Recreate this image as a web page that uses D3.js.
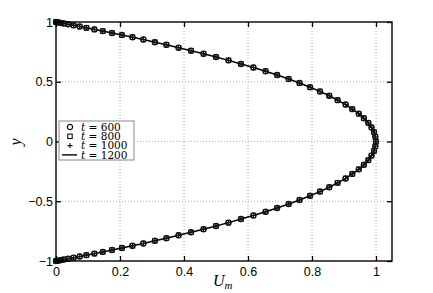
<!DOCTYPE html>
<html><head><meta charset="utf-8">
<script src="https://cdn.jsdelivr.net/npm/d3@7"></script>
<style>body{margin:0;background:#fff}svg{display:block}</style>
</head><body>
<svg id="c" width="433" height="293"></svg>
<script>
const yNodes = [1.000,0.999,0.997,0.993,0.988,0.981,0.972,0.962,0.951,0.938,0.924,0.908,0.891,0.873,0.853,0.831,0.809,0.785,0.760,0.734,0.707,0.679,0.649,0.619,0.588,0.556,0.523,0.489,0.454,0.419,0.383,0.346,0.309,0.271,0.233,0.195,0.156,0.118,0.078,0.039,0.000,
-0.039,-0.078,-0.118,-0.156,-0.195,-0.233,-0.271,-0.309,-0.346,-0.383,-0.419,-0.454,-0.489,-0.523,-0.556,-0.588,-0.619,-0.649,-0.679,-0.707,-0.734,-0.760,-0.785,-0.809,-0.831,-0.853,-0.873,-0.891,-0.908,-0.924,-0.938,-0.951,-0.962,-0.972,-0.981,-0.988,-0.993,-0.997,-0.999,-1.000];
const uProfile = [0.000,0.002,0.006,0.014,0.024,0.038,0.055,0.074,0.095,0.120,0.146,0.175,0.206,0.239,0.273,0.309,0.345,0.383,0.422,0.461,0.500,0.539,0.578,0.617,0.655,0.691,0.727,0.761,0.794,0.825,0.854,0.880,0.905,0.926,0.946,0.962,0.976,0.986,0.994,0.998,1.000,
0.998,0.994,0.986,0.976,0.962,0.946,0.926,0.905,0.880,0.854,0.825,0.794,0.761,0.727,0.691,0.655,0.617,0.578,0.539,0.500,0.461,0.422,0.383,0.345,0.309,0.273,0.239,0.206,0.175,0.146,0.120,0.095,0.074,0.055,0.038,0.024,0.014,0.006,0.002,0.000];
const seriesTimes = ["600","800","1000","1200"];
const seriesKinds = ["circle","square","plus","line"];
const xTicks = [0,0.2,0.4,0.6,0.8,1];
const yTicks = [-1,-0.5,0,0.5,1];

const svg = d3.select("#c");
const L=56, R=392, T=22, B=261;
const x = d3.scaleLinear().domain([0,1.05]).range([L,R]);
const y = d3.scaleLinear().domain([-1,1]).range([B,T]);
const pts = yNodes.map((v,i)=>({u:uProfile[i], y:v}));

// grid
const g = svg.append("g");
g.selectAll(".gx").data(xTicks.filter(d=>d>0)).join("line")
  .attr("x1",d=>x(d)).attr("x2",d=>x(d)).attr("y1",T).attr("y2",B)
  .attr("stroke","#b0b0b0").attr("stroke-width",1).attr("stroke-dasharray","1,2");
g.selectAll(".gy").data(yTicks.filter(d=>d>-1&&d<1)).join("line")
  .attr("y1",d=>y(d)).attr("y2",d=>y(d)).attr("x1",L).attr("x2",R)
  .attr("stroke","#b0b0b0").attr("stroke-width",1).attr("stroke-dasharray","1,2");

// axes
const fmt = d => d<0 ? "\u2212"+Math.abs(d) : String(d);
const ax = svg.append("g").attr("transform",`translate(0,${B})`)
  .call(d3.axisBottom(x).tickValues(xTicks).tickFormat(fmt).tickSizeInner(-5).tickSizeOuter(0).tickPadding(6));
const ay = svg.append("g").attr("transform",`translate(${L},0)`)
  .call(d3.axisLeft(y).tickValues(yTicks).tickFormat(fmt).tickSizeInner(-5).tickSizeOuter(0).tickPadding(3));
const axT = svg.append("g").attr("transform",`translate(0,${T})`)
  .call(d3.axisTop(x).tickValues(xTicks).tickFormat("").tickSizeInner(-5).tickSizeOuter(0));
const ayR = svg.append("g").attr("transform",`translate(${R},0)`)
  .call(d3.axisRight(y).tickValues(yTicks).tickFormat("").tickSizeInner(-5).tickSizeOuter(0));
[ax,ay,axT,ayR].forEach(a=>{
  a.select(".domain").remove();
  a.selectAll("line").attr("stroke","#000").attr("stroke-width",1.3);
  a.selectAll("text").attr("fill","#000").style("font-family","'Liberation Sans',Arial,sans-serif").style("font-size","12.5px");
});

// curve
svg.append("path").datum(pts)
  .attr("d",d3.line().x(d=>x(d.u)).y(d=>y(d.y)))
  .attr("fill","none").attr("stroke","#000").attr("stroke-width",1.5);

function marker(sel, kind){
  if(kind==="circle") sel.append("circle").attr("r",2.6).attr("fill","none").attr("stroke","#111").attr("stroke-width",1.2);
  else if(kind==="square") sel.append("rect").attr("x",-2.2).attr("y",-2.2).attr("width",4.4).attr("height",4.4).attr("fill","none").attr("stroke","#111").attr("stroke-width",1.1);
  else if(kind==="plus") sel.append("path").attr("d","M-2.5,0H2.5M0,-2.5V2.5").attr("stroke","#111").attr("stroke-width",1.1);
}
seriesKinds.forEach(k=>{
  if(k==="line") return;
  svg.append("g").selectAll("g").data(pts).join("g")
    .attr("transform",d=>`translate(${x(d.u)},${y(d.y)})`)
    .each(function(){marker(d3.select(this),k);});
});

// frame
svg.append("rect").attr("x",L).attr("y",T).attr("width",R-L).attr("height",B-T)
  .attr("fill","none").attr("stroke","#000").attr("stroke-width",1.4);

// legend
const lg = svg.append("g");
lg.append("rect").attr("x",59).attr("y",121).attr("width",75).attr("height",39)
  .attr("fill","#fff").attr("stroke","#888").attr("stroke-width",1);
seriesTimes.forEach((t,i)=>{
  const cy = 127 + i*9.3;
  const row = lg.append("g");
  if(seriesKinds[i]==="line") row.append("line").attr("x1",62).attr("x2",77).attr("y1",cy).attr("y2",cy).attr("stroke","#000").attr("stroke-width",1.4);
  else marker(row.append("g").attr("transform",`translate(70,${cy})`), seriesKinds[i]);
  const tx = row.append("text").attr("x",81).attr("y",cy+3.8)
    .style("font-family","'DejaVu Serif',serif").style("font-size","10.5px");
  tx.append("tspan").style("font-style","italic").text("t");
  tx.append("tspan").text(" = "+t);
});

// axis labels
const xl = svg.append("text").attr("x",213).attr("y",286)
  .style("font-family","'Liberation Serif','DejaVu Serif',serif").style("font-size","16px").style("font-style","italic");
xl.append("tspan").text("U");
xl.append("tspan").attr("dy",3).style("font-size","11px").text("m");
svg.append("text").attr("transform","translate(21,142) rotate(-90)").attr("text-anchor","middle")
  .style("font-family","'Liberation Serif','DejaVu Serif',serif").style("font-size","16px").style("font-style","italic").text("y");
</script>
</body></html>
